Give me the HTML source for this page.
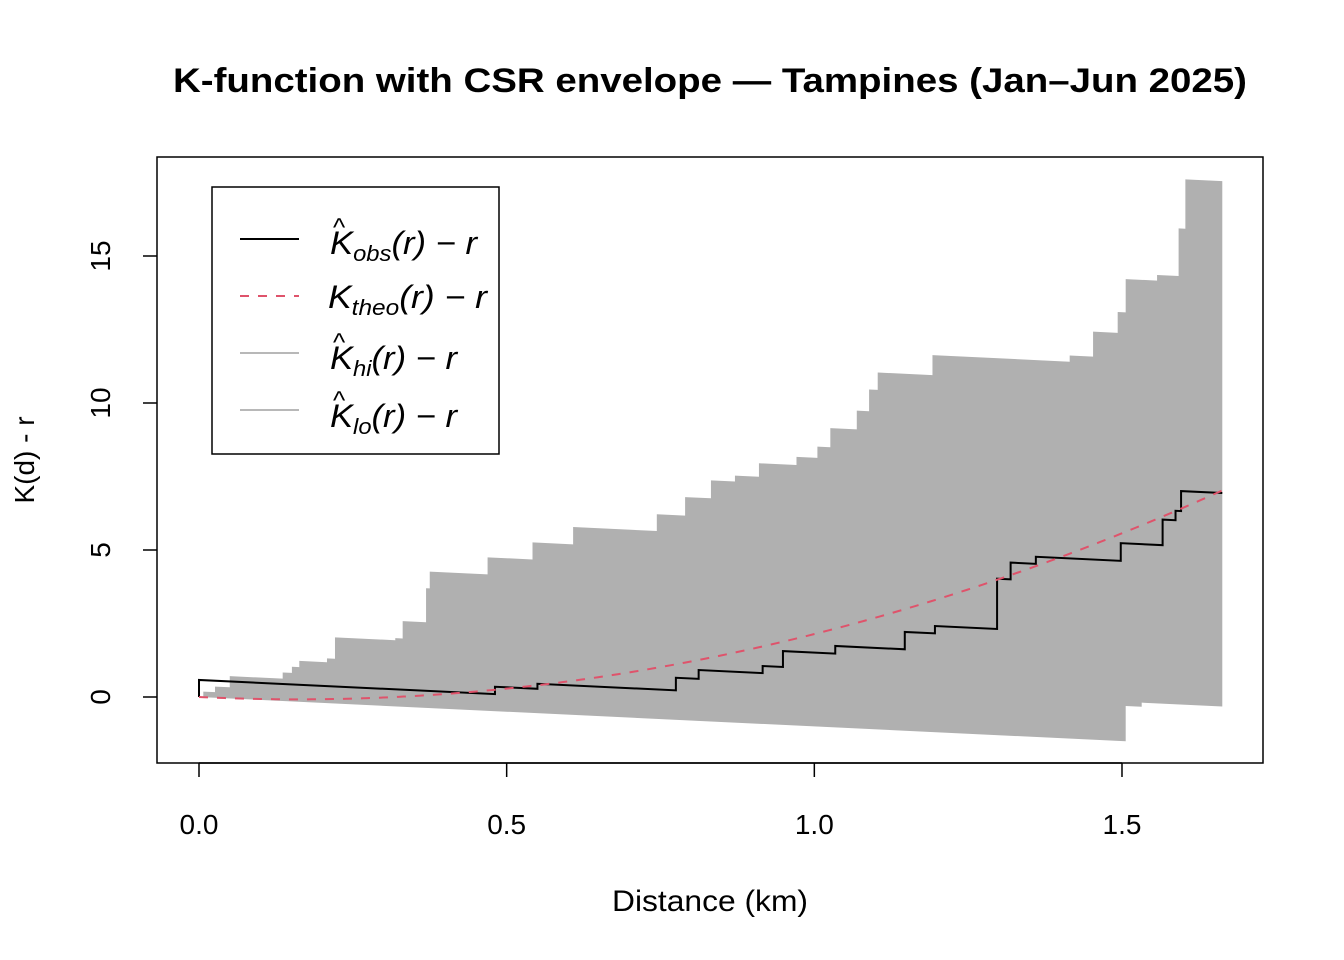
<!DOCTYPE html>
<html><head><meta charset="utf-8">
<style>
html,body{margin:0;padding:0;background:#fff;}
svg{display:block;font-family:"Liberation Sans",Arial,sans-serif;}
</style></head>
<body>
<svg id="chart" width="1344" height="960" viewBox="0 0 1344 960" xmlns="http://www.w3.org/2000/svg">
<rect width="1344" height="960" fill="#fff"/>
<text x="710" y="92" text-anchor="middle" font-size="34" font-weight="bold" textLength="1074" lengthAdjust="spacingAndGlyphs">K-function with CSR envelope — Tampines (Jan–Jun 2025)</text>
<g id="plot"></g>
<rect x="157" y="157" width="1106" height="606" fill="none" stroke="#000" stroke-width="1.5"/>
<g id="axes"></g>
<text x="710" y="911" text-anchor="middle" font-size="30" textLength="196" lengthAdjust="spacingAndGlyphs">Distance (km)</text>
<text transform="translate(34,460) rotate(-90)" text-anchor="middle" font-size="28">K(d) - r</text>
<g>
<rect x="212" y="187" width="287" height="267" fill="#fff" stroke="#000" stroke-width="1.5"/>
<line x1="240" y1="239" x2="299" y2="239" stroke="#000" stroke-width="2"/>
<line x1="240" y1="296" x2="299" y2="296" stroke="#DF536B" stroke-width="2" stroke-dasharray="9,9"/>
<line x1="240" y1="353" x2="299" y2="353" stroke="#b8b8b8" stroke-width="2"/>
<line x1="240" y1="410" x2="299" y2="410" stroke="#b8b8b8" stroke-width="2"/>
<g font-style="italic" font-size="32">
<text x="330" y="254" textLength="147" lengthAdjust="spacingAndGlyphs">K<tspan font-size="22" dy="7">obs</tspan><tspan dy="-7">(r) − r</tspan></text>
<text x="333" y="236" font-size="26" font-style="normal">^</text>
<text x="328" y="308" textLength="159" lengthAdjust="spacingAndGlyphs">K<tspan font-size="22" dy="7">theo</tspan><tspan dy="-7">(r) − r</tspan></text>
<text x="330" y="369" textLength="127" lengthAdjust="spacingAndGlyphs">K<tspan font-size="22" dy="7">hi</tspan><tspan dy="-7">(r) − r</tspan></text>
<text x="333" y="351" font-size="26" font-style="normal">^</text>
<text x="330" y="427" textLength="127" lengthAdjust="spacingAndGlyphs">K<tspan font-size="22" dy="7">lo</tspan><tspan dy="-7">(r) − r</tspan></text>
<text x="333" y="409" font-size="26" font-style="normal">^</text>
</g>
</g>
</svg>
<script>
const rMax = 1.663;
const obsR = [0, 0.481, 0.55, 0.775, 0.812, 0.916, 0.949, 1.034, 1.147, 1.196, 1.297, 1.319, 1.360, 1.498, 1.566, 1.587, 1.596];
const obsK = [0.58, 0.83, 1.0, 1.43, 1.73, 1.97, 2.51, 2.77, 3.36, 3.61, 5.32, 5.89, 6.13, 6.73, 7.60, 7.92, 8.60];
const hiR = [0, 0.007, 0.026, 0.05, 0.136, 0.151, 0.163, 0.208, 0.221, 0.319, 0.331, 0.369, 0.375, 0.469, 0.542, 0.608, 0.744, 0.790, 0.832, 0.871, 0.910, 0.971, 1.005, 1.026, 1.069, 1.089, 1.103, 1.192, 1.415, 1.453, 1.493, 1.506, 1.557, 1.592, 1.603];
const hiK = [0, 0.19, 0.38, 0.76, 0.97, 1.18, 1.39, 1.52, 2.25, 2.32, 2.91, 4.07, 4.64, 5.22, 5.80, 6.39, 6.96, 7.59, 8.20, 8.40, 8.86, 9.14, 9.52, 10.17, 10.81, 11.55, 12.14, 12.82, 13.03, 13.88, 14.59, 15.72, 15.91, 17.53, 19.21];
const loR = [0, 1.506, 1.532];
const loK = [0, 1.20, 1.34];
const xTicks = [0, 0.5, 1.0, 1.5];
const xTickLabels = ["0.0", "0.5", "1.0", "1.5"];
const yTicks = [0, 5, 10, 15];
const yTickLabels = ["0", "5", "10", "15"];

const NS = "http://www.w3.org/2000/svg";
function sx(r){ return 199 + r * 615.33; }
function sy(v){ return 697 - v * 29.4; }

function stepPts(R, K){
  const pts = [];
  for (let i = 0; i < R.length; i++){
    const r0 = R[i], r1 = (i + 1 < R.length) ? R[i+1] : rMax;
    pts.push([sx(r0), sy(K[i] - r0)]);
    pts.push([sx(r1), sy(K[i] - r1)]);
  }
  return pts;
}
const plot = document.getElementById('plot');
const axes = document.getElementById('axes');

const hiPts = stepPts(hiR, hiK);
const loPts = stepPts(loR, loK);
const poly = document.createElementNS(NS, 'polygon');


poly.setAttribute('points', hiPts.concat(loPts.slice().reverse()).map(p => p[0].toFixed(2) + ',' + p[1].toFixed(2)).join(' '));
poly.setAttribute('fill', '#b0b0b0');
plot.appendChild(poly);

const theo = [];
for (let i = 0; i <= 200; i++){
  const r = rMax * i / 200;
  theo.push([sx(r), sy(Math.PI * r * r - r)]);
}
const tl = document.createElementNS(NS, 'polyline');


tl.setAttribute('points', theo.map(p => p[0].toFixed(2) + ',' + p[1].toFixed(2)).join(' '));
tl.setAttribute('fill', 'none');
tl.setAttribute('stroke', '#DF536B');
tl.setAttribute('stroke-width', '2');
tl.setAttribute('stroke-dasharray', '9,9');

const obsPts = [[sx(0), sy(0)]].concat(stepPts(obsR, obsK));
const ol = document.createElementNS(NS, 'polyline');


ol.setAttribute('points', obsPts.map(p => p[0].toFixed(2) + ',' + p[1].toFixed(2)).join(' '));
ol.setAttribute('fill', 'none');
ol.setAttribute('stroke', '#000');
ol.setAttribute('stroke-width', '2');
plot.appendChild(ol);
plot.appendChild(tl);

xTicks.forEach((t, i) => {
  const l = document.createElementNS(NS, 'line');
  
  
  l.setAttribute('x1', sx(t)); l.setAttribute('x2', sx(t));
  l.setAttribute('y1', 763); l.setAttribute('y2', 777);
  l.setAttribute('stroke', '#000'); l.setAttribute('stroke-width', '1.5');
  axes.appendChild(l);
  const tx = document.createElementNS(NS, 'text');
  
  
  tx.setAttribute('x', sx(t)); tx.setAttribute('y', 834);
  tx.setAttribute('text-anchor', 'middle'); tx.setAttribute('font-size', '28');
  tx.textContent = xTickLabels[i];
  axes.appendChild(tx);
});
const xl = document.createElementNS(NS, 'line');


xl.setAttribute('x1', sx(xTicks[0])); xl.setAttribute('x2', sx(xTicks[xTicks.length-1]));
xl.setAttribute('y1', 763); xl.setAttribute('y2', 763);
xl.setAttribute('stroke', '#000'); xl.setAttribute('stroke-width', '1.5');
axes.appendChild(xl);

yTicks.forEach((t, i) => {
  const l = document.createElementNS(NS, 'line');
  
  
  l.setAttribute('x1', 143); l.setAttribute('x2', 157);
  l.setAttribute('y1', sy(t)); l.setAttribute('y2', sy(t));
  l.setAttribute('stroke', '#000'); l.setAttribute('stroke-width', '1.5');
  axes.appendChild(l);
  const tx = document.createElementNS(NS, 'text');
  
  
  tx.setAttribute('transform', 'translate(110,' + sy(t) + ') rotate(-90)');
  tx.setAttribute('text-anchor', 'middle'); tx.setAttribute('font-size', '28');
  tx.textContent = yTickLabels[i];
  axes.appendChild(tx);
});
</script>
</body></html>
